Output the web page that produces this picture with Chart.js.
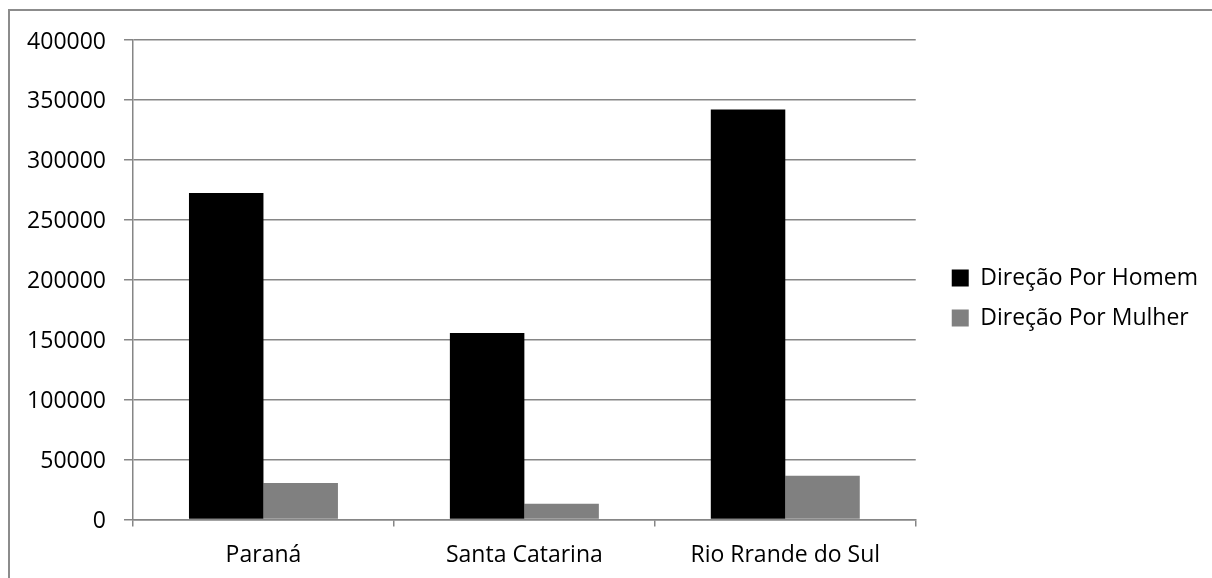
<!DOCTYPE html>
<html><head><meta charset="utf-8">
<script src="https://cdn.jsdelivr.net/npm/chart.js@4"></script>
<style>
html,body{margin:0;padding:0;background:#fff;overflow:hidden;width:1212px;height:578px;}
#frame{position:absolute;left:8px;top:9px;width:1300px;height:700px;border-left:2px solid #8c8c8c;border-top:2px solid #8c8c8c;}
#c{position:absolute;left:0;top:0;}
</style></head><body>
<div id="frame"></div>
<canvas id="c" width="1212" height="578"></canvas>
<script>
const categories = ['Paraná', 'Santa Catarina', 'Rio Rrande do Sul'];
const seriesNames = ['Direção Por Homem', 'Direção Por Mulher'];
const homemValues = [272300, 155500, 342000];
const mulherValues = [30400, 13200, 36500];
const yTickMin = 0;
const yTickMax = 400000;
const yTickStep = 50000;

const gridColor = '#868686';
const fontSpec = { family: "'Open Sans'", size: 23 };

const legendNudge = {
  id: 'legendNudge',
  afterLayout(chart) {
    const lg = chart.legend;
    if (!lg) return;
    lg.left += 19; lg.right += 19;
    lg.top -= 11; lg.bottom -= 11;
  }
};

new Chart(document.getElementById('c'), {
  type: 'bar',
  data: {
    labels: categories,
    datasets: [
      { label: seriesNames[0], data: homemValues, backgroundColor: '#000000', borderWidth: 0,
        categoryPercentage: 0.571, barPercentage: 1.0 },
      { label: seriesNames[1], data: mulherValues, backgroundColor: '#808080', borderWidth: 0,
        categoryPercentage: 0.571, barPercentage: 1.0 }
    ]
  },
  options: {
    responsive: false,
    animation: false,
    devicePixelRatio: 1,
    layout: { padding: { top: 40, right: 23, bottom: 0, left: 0 } },
    plugins: {
      legend: {
        position: 'right',
        labels: { font: fontSpec, color: '#000', boxWidth: 17, boxHeight: 17, padding: 17 }
      },
      tooltip: { enabled: false },
      title: { display: false }
    },
    scales: {
      x: {
        grid: { offset: true, drawOnChartArea: false, drawTicks: true, tickLength: 7, color: gridColor, lineWidth: 1.5 },
        border: { display: true, color: gridColor, width: 1.5 },
        ticks: { font: fontSpec, color: '#000', padding: 15, maxRotation: 0 },
        afterFit(s) { s.height = 58.5; }
      },
      y: {
        min: yTickMin, max: yTickMax,
        grid: { color: gridColor, lineWidth: 1.5, drawTicks: true, tickLength: 9 },
        border: { display: true, color: gridColor, width: 1.5 },
        ticks: { stepSize: yTickStep, font: fontSpec, color: '#000', padding: 18, labelOffset: 2,
                 callback: (v) => String(v) },
        afterFit(s) { s.width = 133; }
      }
    }
  },
  plugins: [legendNudge]
});
</script>
</body></html>
